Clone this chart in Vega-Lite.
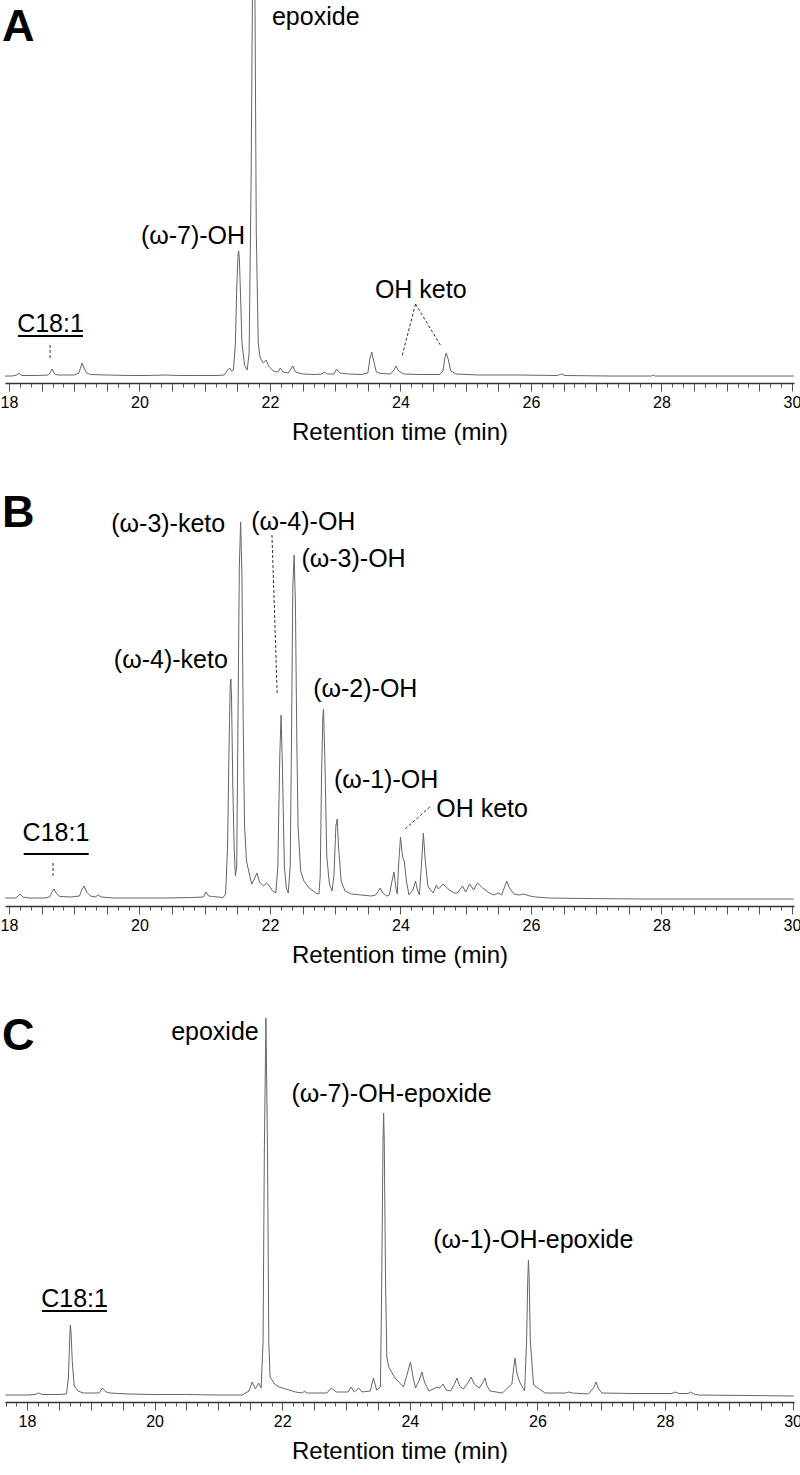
{
  "$schema": "https://vega.github.io/schema/vega-lite/v6.json",
  "padding": 0,
  "spacing": 100,
  "bounds": "flush",
  "config": {
    "view": {"stroke": null},
    "font": "Liberation Sans",
    "axis": {
      "domainColor": "#333",
      "domainWidth": 1.5,
      "tickColor": "#555",
      "tickWidth": 1,
      "tickCount": 200,
      "labelColor": "#000",
      "labelFontSize": 16,
      "labelFont": "Liberation Sans",
      "labelPadding": 3,
      "labelOverlap": false,
      "labelBound": false,
      "labelFlush": false,
      "titleFontSize": 24,
      "titleFontWeight": "normal",
      "titleFont": "Liberation Sans",
      "titleColor": "#000",
      "titlePadding": 10,
      "grid": false
    }
  },
  "datasets": {
    "trA": [
      {"t":17.94,"v":7},{"t":18.05,"v":7},{"t":18.12,"v":8},{"t":18.15,"v":10},{"t":18.19,"v":7.5},{"t":18.4,"v":7.5},{"t":18.6,"v":8},{"t":18.63,"v":10},{"t":18.66,"v":14},{"t":18.7,"v":9},{"t":18.75,"v":8},{"t":19.0,"v":8},{"t":19.07,"v":10},{"t":19.1,"v":16},{"t":19.12,"v":20},{"t":19.15,"v":15},{"t":19.19,"v":10},{"t":19.25,"v":8.5},{"t":19.5,"v":8},{"t":19.85,"v":7.5},{"t":20.1,"v":7.5},{"t":20.4,"v":8},{"t":20.6,"v":7.5},{"t":20.9,"v":7.5},{"t":21.2,"v":7.5},{"t":21.3,"v":8},{"t":21.35,"v":13},{"t":21.38,"v":15},{"t":21.41,"v":12},{"t":21.44,"v":13},{"t":21.47,"v":40},{"t":21.49,"v":95},{"t":21.51,"v":128},{"t":21.52,"v":132},{"t":21.53,"v":125},{"t":21.55,"v":85},{"t":21.57,"v":40},{"t":21.61,"v":18},{"t":21.65,"v":13},{"t":21.68,"v":30},{"t":21.71,"v":200},{"t":21.73,"v":380},{"t":21.75,"v":440},{"t":21.77,"v":380},{"t":21.79,"v":150},{"t":21.82,"v":40},{"t":21.85,"v":25},{"t":21.9,"v":20},{"t":21.94,"v":23},{"t":21.98,"v":17},{"t":22.05,"v":12},{"t":22.12,"v":11},{"t":22.16,"v":15},{"t":22.2,"v":11},{"t":22.28,"v":10},{"t":22.32,"v":14},{"t":22.35,"v":17},{"t":22.39,"v":11},{"t":22.5,"v":9},{"t":22.7,"v":8.5},{"t":22.8,"v":9},{"t":22.83,"v":11},{"t":22.88,"v":9},{"t":22.98,"v":9},{"t":23.02,"v":14},{"t":23.07,"v":10},{"t":23.2,"v":9},{"t":23.4,"v":8.5},{"t":23.5,"v":10},{"t":23.53,"v":24},{"t":23.56,"v":31},{"t":23.59,"v":22},{"t":23.63,"v":11},{"t":23.7,"v":9.5},{"t":23.85,"v":9},{"t":23.9,"v":13},{"t":23.93,"v":17},{"t":23.97,"v":12},{"t":24.05,"v":9},{"t":24.3,"v":8.5},{"t":24.6,"v":8.5},{"t":24.65,"v":12},{"t":24.68,"v":25},{"t":24.7,"v":30},{"t":24.73,"v":24},{"t":24.77,"v":12},{"t":24.85,"v":9},{"t":25.2,"v":8},{"t":25.8,"v":8},{"t":26.4,"v":7.5},{"t":26.47,"v":9},{"t":26.52,"v":7.5},{"t":27.2,"v":7},{"t":27.85,"v":7},{"t":27.87,"v":8},{"t":27.9,"v":7},{"t":29.0,"v":7},{"t":30.03,"v":7}
    ],
    "trB": [
      {"t":17.94,"v":8},{"t":18.1,"v":8},{"t":18.14,"v":10},{"t":18.17,"v":12},{"t":18.21,"v":9},{"t":18.3,"v":8},{"t":18.55,"v":8},{"t":18.62,"v":9},{"t":18.66,"v":14},{"t":18.69,"v":17},{"t":18.72,"v":13},{"t":18.78,"v":9.5},{"t":18.95,"v":9},{"t":19.08,"v":10},{"t":19.12,"v":17},{"t":19.15,"v":20},{"t":19.19,"v":14},{"t":19.25,"v":10},{"t":19.32,"v":9},{"t":19.37,"v":11},{"t":19.41,"v":9},{"t":19.6,"v":8},{"t":20.0,"v":8},{"t":20.4,"v":8},{"t":20.8,"v":8.5},{"t":20.98,"v":9},{"t":21.02,"v":14},{"t":21.06,"v":10},{"t":21.12,"v":9.5},{"t":21.2,"v":9},{"t":21.28,"v":8.5},{"t":21.32,"v":12},{"t":21.35,"v":60},{"t":21.37,"v":150},{"t":21.39,"v":220},{"t":21.4,"v":227},{"t":21.41,"v":210},{"t":21.43,"v":120},{"t":21.45,"v":60},{"t":21.47,"v":30},{"t":21.49,"v":40},{"t":21.51,"v":190},{"t":21.53,"v":340},{"t":21.55,"v":384},{"t":21.57,"v":330},{"t":21.59,"v":180},{"t":21.61,"v":80},{"t":21.64,"v":45},{"t":21.68,"v":33},{"t":21.72,"v":22},{"t":21.76,"v":27},{"t":21.8,"v":33},{"t":21.84,"v":24},{"t":21.9,"v":20},{"t":21.95,"v":23},{"t":21.99,"v":20},{"t":22.04,"v":15},{"t":22.09,"v":13},{"t":22.12,"v":40},{"t":22.15,"v":150},{"t":22.17,"v":191},{"t":22.19,"v":140},{"t":22.22,"v":40},{"t":22.25,"v":18},{"t":22.28,"v":13},{"t":22.31,"v":40},{"t":22.33,"v":170},{"t":22.35,"v":320},{"t":22.37,"v":351},{"t":22.39,"v":300},{"t":22.41,"v":170},{"t":22.43,"v":80},{"t":22.47,"v":35},{"t":22.52,"v":25},{"t":22.6,"v":18},{"t":22.7,"v":13},{"t":22.75,"v":12},{"t":22.77,"v":30},{"t":22.79,"v":130},{"t":22.81,"v":190},{"t":22.82,"v":197},{"t":22.84,"v":150},{"t":22.87,"v":50},{"t":22.91,"v":22},{"t":22.95,"v":15},{"t":22.98,"v":30},{"t":23.01,"v":80},{"t":23.03,"v":87},{"t":23.05,"v":60},{"t":23.09,"v":25},{"t":23.15,"v":15},{"t":23.25,"v":12},{"t":23.4,"v":11},{"t":23.55,"v":10},{"t":23.62,"v":11},{"t":23.66,"v":15},{"t":23.69,"v":18},{"t":23.73,"v":13},{"t":23.79,"v":10},{"t":23.83,"v":11},{"t":23.87,"v":25},{"t":23.9,"v":34},{"t":23.93,"v":18},{"t":23.95,"v":12},{"t":23.97,"v":40},{"t":24.0,"v":69},{"t":24.03,"v":50},{"t":24.06,"v":44},{"t":24.09,"v":25},{"t":24.13,"v":11},{"t":24.19,"v":16},{"t":24.23,"v":25},{"t":24.26,"v":16},{"t":24.29,"v":11},{"t":24.32,"v":40},{"t":24.35,"v":73},{"t":24.38,"v":45},{"t":24.42,"v":20},{"t":24.46,"v":16},{"t":24.5,"v":13},{"t":24.55,"v":21},{"t":24.58,"v":17},{"t":24.6,"v":18},{"t":24.65,"v":22},{"t":24.7,"v":19},{"t":24.75,"v":16},{"t":24.82,"v":13},{"t":24.87,"v":13},{"t":24.95,"v":20},{"t":25.0,"v":14},{"t":25.06,"v":22},{"t":25.12,"v":16},{"t":25.18,"v":23},{"t":25.26,"v":18},{"t":25.36,"v":13},{"t":25.43,"v":11},{"t":25.5,"v":13},{"t":25.55,"v":11},{"t":25.6,"v":20},{"t":25.63,"v":25},{"t":25.67,"v":18},{"t":25.74,"v":12},{"t":25.82,"v":11},{"t":25.89,"v":12},{"t":25.98,"v":10},{"t":26.07,"v":9},{"t":26.28,"v":8},{"t":26.8,"v":7.5},{"t":27.7,"v":7},{"t":30.03,"v":7}
    ],
    "trC": [
      {"t":17.66,"v":7},{"t":18.0,"v":7},{"t":18.13,"v":7.5},{"t":18.18,"v":9},{"t":18.24,"v":7.5},{"t":18.5,"v":7.5},{"t":18.62,"v":8},{"t":18.65,"v":25},{"t":18.67,"v":65},{"t":18.68,"v":77},{"t":18.69,"v":70},{"t":18.71,"v":40},{"t":18.74,"v":16},{"t":18.8,"v":11},{"t":18.88,"v":9},{"t":19.13,"v":9},{"t":19.18,"v":14},{"t":19.24,"v":10},{"t":19.3,"v":9},{"t":19.6,"v":8},{"t":20.0,"v":7.5},{"t":20.5,"v":7.5},{"t":21.0,"v":7},{"t":21.37,"v":7},{"t":21.48,"v":11},{"t":21.53,"v":20},{"t":21.58,"v":13},{"t":21.63,"v":19},{"t":21.67,"v":14},{"t":21.7,"v":60},{"t":21.72,"v":250},{"t":21.745,"v":384},{"t":21.77,"v":250},{"t":21.79,"v":60},{"t":21.81,"v":25},{"t":21.88,"v":18},{"t":21.95,"v":15},{"t":22.21,"v":10},{"t":22.32,"v":9},{"t":22.35,"v":11},{"t":22.39,"v":9},{"t":22.7,"v":9},{"t":22.77,"v":14},{"t":22.85,"v":10},{"t":23.03,"v":10},{"t":23.08,"v":15},{"t":23.13,"v":10},{"t":23.2,"v":14},{"t":23.25,"v":10},{"t":23.38,"v":11},{"t":23.43,"v":24},{"t":23.48,"v":12},{"t":23.54,"v":15},{"t":23.56,"v":120},{"t":23.58,"v":260},{"t":23.59,"v":289},{"t":23.6,"v":260},{"t":23.62,"v":120},{"t":23.64,"v":45},{"t":23.67,"v":35},{"t":23.77,"v":24},{"t":23.9,"v":15},{"t":23.96,"v":28},{"t":24.01,"v":40},{"t":24.05,"v":25},{"t":24.09,"v":14},{"t":24.15,"v":22},{"t":24.19,"v":30},{"t":24.23,"v":20},{"t":24.3,"v":11},{"t":24.43,"v":15},{"t":24.47,"v":14},{"t":24.52,"v":18},{"t":24.57,"v":12},{"t":24.64,"v":11},{"t":24.7,"v":18},{"t":24.74,"v":24},{"t":24.78,"v":16},{"t":24.84,"v":13},{"t":24.92,"v":20},{"t":24.96,"v":25},{"t":25.01,"v":18},{"t":25.09,"v":14},{"t":25.15,"v":20},{"t":25.18,"v":24},{"t":25.21,"v":16},{"t":25.26,"v":11},{"t":25.45,"v":9},{"t":25.55,"v":15},{"t":25.6,"v":18},{"t":25.63,"v":35},{"t":25.65,"v":44},{"t":25.68,"v":28},{"t":25.73,"v":19},{"t":25.8,"v":11},{"t":25.83,"v":60},{"t":25.85,"v":125},{"t":25.86,"v":142},{"t":25.87,"v":125},{"t":25.89,"v":60},{"t":25.94,"v":17},{"t":26.12,"v":9},{"t":26.44,"v":9},{"t":26.49,"v":10},{"t":26.55,"v":9},{"t":26.8,"v":8},{"t":26.88,"v":14},{"t":26.92,"v":20},{"t":26.96,"v":13},{"t":27.01,"v":9},{"t":27.5,"v":8.5},{"t":28.1,"v":8.5},{"t":28.16,"v":10},{"t":28.22,"v":8.5},{"t":28.36,"v":8.5},{"t":28.4,"v":10},{"t":28.45,"v":8},{"t":28.53,"v":7},{"t":29.3,"v":6.5},{"t":30.02,"v":6}
    ],
    "labels": [
      {"p":"A","t":17.893,"v":342,"label":"A","kind":"letter"},
      {"p":"A","t":22.03,"v":358,"label":"epoxide","kind":"left"},
      {"p":"A","t":20.82,"v":139,"label":"(ω-7)-OH","kind":"center"},
      {"p":"A","t":18.636,"v":51,"label":"C18:1","kind":"center"},
      {"p":"A","t":24.31,"v":85,"label":"OH keto","kind":"center"},
      {"p":"B","t":17.893,"v":379,"label":"B","kind":"letter"},
      {"p":"B","t":20.44,"v":374,"label":"(ω-3)-keto","kind":"center"},
      {"p":"B","t":22.51,"v":376,"label":"(ω-4)-OH","kind":"center"},
      {"p":"B","t":23.28,"v":339,"label":"(ω-3)-OH","kind":"center"},
      {"p":"B","t":20.48,"v":238,"label":"(ω-4)-keto","kind":"center"},
      {"p":"B","t":23.46,"v":209,"label":"(ω-2)-OH","kind":"center"},
      {"p":"B","t":23.78,"v":118,"label":"(ω-1)-OH","kind":"center"},
      {"p":"B","t":25.25,"v":89,"label":"OH keto","kind":"center"},
      {"p":"B","t":18.72,"v":65,"label":"C18:1","kind":"center"},
      {"p":"C","t":17.608,"v":352,"label":"C","kind":"letter"},
      {"p":"C","t":18.745,"v":95,"label":"C18:1","kind":"center"},
      {"p":"C","t":21.632,"v":362,"label":"epoxide","kind":"right"},
      {"p":"C","t":23.713,"v":300,"label":"(ω-7)-OH-epoxide","kind":"center"},
      {"p":"C","t":25.936,"v":154,"label":"(ω-1)-OH-epoxide","kind":"center"}
    ],
    "leaders": [
      {"p":"A","t":18.63,"v":38,"t2":18.63,"v2":23},
      {"p":"A","t":24.23,"v":79,"t2":24.02,"v2":26},
      {"p":"A","t":24.23,"v":79,"t2":24.62,"v2":37},
      {"p":"B","t":18.675,"v":43,"t2":18.675,"v2":28},
      {"p":"B","t":22.03,"v":371,"t2":22.11,"v2":213},
      {"p":"B","t":24.45,"v":99,"t2":24.07,"v2":77}
    ],
    "underlines": [
      {"p":"A","t":18.138,"t2":19.134,"v":47},
      {"p":"B","t":18.225,"t2":19.221,"v":52},
      {"p":"C","t":18.235,"t2":19.254,"v":91}
    ]
  },
  "vconcat": [
    {
      "width": 789, "height": 383,
      "layer": [
        {
          "data": {"name": "trA"},
          "mark": {"type": "line", "color": "#666", "strokeWidth": 1, "clip": true},
          "encoding": {
            "x": {"field": "t", "type": "quantitative",
              "scale": {"domain": [17.9387, 30.0307], "nice": false, "zero": false},
              "axis": {"title": "Retention time (min)", "tickCount": 200,
                "values": [18,18.1667,18.3333,18.5,18.6667,18.8333,19,19.1667,19.3333,19.5,19.6667,19.8333,20,20.1667,20.3333,20.5,20.6667,20.8333,21,21.1667,21.3333,21.5,21.6667,21.8333,22,22.1667,22.3333,22.5,22.6667,22.8333,23,23.1667,23.3333,23.5,23.6667,23.8333,24,24.1667,24.3333,24.5,24.6667,24.8333,25,25.1667,25.3333,25.5,25.6667,25.8333,26,26.1667,26.3333,26.5,26.6667,26.8333,27,27.1667,27.3333,27.5,27.6667,27.8333,28,28.1667,28.3333,28.5,28.6667,28.8333,29,29.1667,29.3333,29.5,29.6667,29.8333,30],
                "labelExpr": "abs(datum.value/2 - round(datum.value/2)) < 0.001 ? format(round(datum.value), 'd') : ''",
                "tickSize": {"condition": {"test": "abs(datum.value*2 - round(datum.value*2)) < 0.01", "value": 8}, "value": 4}}},
            "y": {"field": "v", "type": "quantitative", "scale": {"domain": [0, 383], "nice": false, "zero": false}, "axis": null}
          }
        },
        {
          "data": {"name": "leaders"},
          "transform": [{"filter": "datum.p === 'A'"}],
          "mark": {"type": "rule", "color": "#333", "strokeWidth": 1, "strokeDash": [3, 2]},
          "encoding": {"x": {"field": "t", "type": "quantitative"}, "x2": {"field": "t2"}, "y": {"field": "v", "type": "quantitative"}, "y2": {"field": "v2"}}
        },
        {
          "data": {"name": "underlines"},
          "transform": [{"filter": "datum.p === 'A'"}],
          "mark": {"type": "rule", "color": "#000", "strokeWidth": 2},
          "encoding": {"x": {"field": "t", "type": "quantitative"}, "x2": {"field": "t2"}, "y": {"field": "v", "type": "quantitative"}}
        },
        {
          "data": {"name": "labels"},
          "transform": [{"filter": "datum.p === 'A' && datum.kind === 'center'"}],
          "mark": {"type": "text", "fontSize": 25, "align": "center", "baseline": "alphabetic", "color": "#000"},
          "encoding": {"x": {"field": "t", "type": "quantitative"}, "y": {"field": "v", "type": "quantitative"}, "text": {"field": "label"}}
        },
        {
          "data": {"name": "labels"},
          "transform": [{"filter": "datum.p === 'A' && datum.kind === 'left'"}],
          "mark": {"type": "text", "fontSize": 25, "align": "left", "baseline": "alphabetic", "color": "#000"},
          "encoding": {"x": {"field": "t", "type": "quantitative"}, "y": {"field": "v", "type": "quantitative"}, "text": {"field": "label"}}
        },
        {
          "data": {"name": "labels"},
          "transform": [{"filter": "datum.p === 'A' && datum.kind === 'letter'"}],
          "mark": {"type": "text", "fontSize": 45, "fontWeight": "bold", "align": "left", "baseline": "alphabetic", "color": "#000"},
          "encoding": {"x": {"field": "t", "type": "quantitative"}, "y": {"field": "v", "type": "quantitative"}, "text": {"field": "label"}}
        }
      ]
    },
    {
      "width": 789, "height": 423,
      "layer": [
        {
          "data": {"name": "trB"},
          "mark": {"type": "line", "color": "#666", "strokeWidth": 1, "clip": true},
          "encoding": {
            "x": {"field": "t", "type": "quantitative",
              "scale": {"domain": [17.9387, 30.0307], "nice": false, "zero": false},
              "axis": {"title": "Retention time (min)", "tickCount": 200,
                "values": [18,18.1667,18.3333,18.5,18.6667,18.8333,19,19.1667,19.3333,19.5,19.6667,19.8333,20,20.1667,20.3333,20.5,20.6667,20.8333,21,21.1667,21.3333,21.5,21.6667,21.8333,22,22.1667,22.3333,22.5,22.6667,22.8333,23,23.1667,23.3333,23.5,23.6667,23.8333,24,24.1667,24.3333,24.5,24.6667,24.8333,25,25.1667,25.3333,25.5,25.6667,25.8333,26,26.1667,26.3333,26.5,26.6667,26.8333,27,27.1667,27.3333,27.5,27.6667,27.8333,28,28.1667,28.3333,28.5,28.6667,28.8333,29,29.1667,29.3333,29.5,29.6667,29.8333,30],
                "labelExpr": "abs(datum.value/2 - round(datum.value/2)) < 0.001 ? format(round(datum.value), 'd') : ''",
                "tickSize": {"condition": {"test": "abs(datum.value*2 - round(datum.value*2)) < 0.01", "value": 8}, "value": 4}}},
            "y": {"field": "v", "type": "quantitative", "scale": {"domain": [0, 423], "nice": false, "zero": false}, "axis": null}
          }
        },
        {
          "data": {"name": "leaders"},
          "transform": [{"filter": "datum.p === 'B'"}],
          "mark": {"type": "rule", "color": "#333", "strokeWidth": 1, "strokeDash": [3, 2]},
          "encoding": {"x": {"field": "t", "type": "quantitative"}, "x2": {"field": "t2"}, "y": {"field": "v", "type": "quantitative"}, "y2": {"field": "v2"}}
        },
        {
          "data": {"name": "underlines"},
          "transform": [{"filter": "datum.p === 'B'"}],
          "mark": {"type": "rule", "color": "#000", "strokeWidth": 2},
          "encoding": {"x": {"field": "t", "type": "quantitative"}, "x2": {"field": "t2"}, "y": {"field": "v", "type": "quantitative"}}
        },
        {
          "data": {"name": "labels"},
          "transform": [{"filter": "datum.p === 'B' && datum.kind === 'center'"}],
          "mark": {"type": "text", "fontSize": 25, "align": "center", "baseline": "alphabetic", "color": "#000"},
          "encoding": {"x": {"field": "t", "type": "quantitative"}, "y": {"field": "v", "type": "quantitative"}, "text": {"field": "label"}}
        },
        {
          "data": {"name": "labels"},
          "transform": [{"filter": "datum.p === 'B' && datum.kind === 'letter'"}],
          "mark": {"type": "text", "fontSize": 45, "fontWeight": "bold", "align": "left", "baseline": "alphabetic", "color": "#000"},
          "encoding": {"x": {"field": "t", "type": "quantitative"}, "y": {"field": "v", "type": "quantitative"}, "text": {"field": "label"}}
        }
      ]
    },
    {
      "width": 789, "height": 396,
      "layer": [
        {
          "data": {"name": "trC"},
          "mark": {"type": "line", "color": "#666", "strokeWidth": 1, "clip": true},
          "encoding": {
            "x": {"field": "t", "type": "quantitative",
              "scale": {"domain": [17.6552, 30.022], "nice": false, "zero": false},
              "axis": {"title": "Retention time (min)", "tickCount": 200,
                "values": [17.6667,17.8333,18,18.1667,18.3333,18.5,18.6667,18.8333,19,19.1667,19.3333,19.5,19.6667,19.8333,20,20.1667,20.3333,20.5,20.6667,20.8333,21,21.1667,21.3333,21.5,21.6667,21.8333,22,22.1667,22.3333,22.5,22.6667,22.8333,23,23.1667,23.3333,23.5,23.6667,23.8333,24,24.1667,24.3333,24.5,24.6667,24.8333,25,25.1667,25.3333,25.5,25.6667,25.8333,26,26.1667,26.3333,26.5,26.6667,26.8333,27,27.1667,27.3333,27.5,27.6667,27.8333,28,28.1667,28.3333,28.5,28.6667,28.8333,29,29.1667,29.3333,29.5,29.6667,29.8333,30],
                "labelExpr": "abs(datum.value/2 - round(datum.value/2)) < 0.001 ? format(round(datum.value), 'd') : ''",
                "tickSize": {"condition": {"test": "abs(datum.value*2 - round(datum.value*2)) < 0.01", "value": 8}, "value": 4}}},
            "y": {"field": "v", "type": "quantitative", "scale": {"domain": [0, 396], "nice": false, "zero": false}, "axis": null}
          }
        },
        {
          "data": {"name": "underlines"},
          "transform": [{"filter": "datum.p === 'C'"}],
          "mark": {"type": "rule", "color": "#000", "strokeWidth": 2},
          "encoding": {"x": {"field": "t", "type": "quantitative"}, "x2": {"field": "t2"}, "y": {"field": "v", "type": "quantitative"}}
        },
        {
          "data": {"name": "labels"},
          "transform": [{"filter": "datum.p === 'C' && datum.kind === 'center'"}],
          "mark": {"type": "text", "fontSize": 25, "align": "center", "baseline": "alphabetic", "color": "#000"},
          "encoding": {"x": {"field": "t", "type": "quantitative"}, "y": {"field": "v", "type": "quantitative"}, "text": {"field": "label"}}
        },
        {
          "data": {"name": "labels"},
          "transform": [{"filter": "datum.p === 'C' && datum.kind === 'right'"}],
          "mark": {"type": "text", "fontSize": 25, "align": "right", "baseline": "alphabetic", "color": "#000"},
          "encoding": {"x": {"field": "t", "type": "quantitative"}, "y": {"field": "v", "type": "quantitative"}, "text": {"field": "label"}}
        },
        {
          "data": {"name": "labels"},
          "transform": [{"filter": "datum.p === 'C' && datum.kind === 'letter'"}],
          "mark": {"type": "text", "fontSize": 45, "fontWeight": "bold", "align": "left", "baseline": "alphabetic", "color": "#000"},
          "encoding": {"x": {"field": "t", "type": "quantitative"}, "y": {"field": "v", "type": "quantitative"}, "text": {"field": "label"}}
        }
      ]
    }
  ]
}
